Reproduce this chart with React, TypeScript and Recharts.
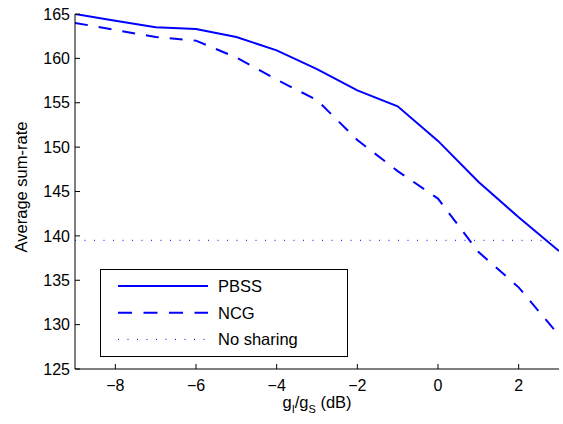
import React from "react";
import { LineChart, Line, XAxis, YAxis, Legend } from "recharts";

const xValues = [-9, -8, -7, -6, -5, -4, -3, -2, -1, 0, 1, 2, 3];
const pbssValues = [165.0, 164.25, 163.5, 163.3, 162.4, 160.9, 158.8, 156.4, 154.6, 150.7, 146.1, 142.1, 138.3];
const ncgValues = [164.0, 163.2, 162.4, 162.0, 160.1, 157.6, 155.3, 150.8, 147.3, 144.2, 138.2, 134.2, 128.8];
const noSharingValues = [139.5, 139.5, 139.5, 139.5, 139.5, 139.5, 139.5, 139.5, 139.5, 139.5, 139.5, 139.5, 139.5];

const xTicks = [-8, -6, -4, -2, 0, 2];
const yTicks = [125, 130, 135, 140, 145, 150, 155, 160, 165];

const seriesNames = ["PBSS", "NCG", "No sharing"];
const seriesKeys = ["pbss", "ncg", "none"];

const data = xValues.map((x, i) => ({
  x,
  pbss: pbssValues[i],
  ncg: ncgValues[i],
  none: noSharingValues[i],
}));

const BLUE = "#0000ff";
const FONT = "'Liberation Sans', Arial, Helvetica, sans-serif";

const seriesStyle: Record<string, { dash?: string; width: number }> = {
  pbss: { width: 2 },
  ncg: { dash: "13 11", width: 2 },
  none: { dash: "1 8.5", width: 1 },
};

const fmt = (v: number) => (v < 0 ? "\u2212" + Math.abs(v) : String(v));

const LegendBox = () => (
  <div
    style={{
      width: 246,
      height: 86,
      border: "1px solid #000",
      background: "#fff",
      position: "relative",
      fontFamily: FONT,
      color: "#000",
    }}
  >
    <svg width={246} height={86} style={{ position: "absolute", left: 0, top: 0 }}>
      {seriesKeys.map((k, i) => {
        const y = 16 + i * 26.7;
        const st = seriesStyle[k];
        return (
          <g key={k}>
            <line
              x1={17}
              x2={107}
              y1={y}
              y2={y}
              stroke={BLUE}
              strokeWidth={st.width}
              strokeDasharray={k === "ncg" ? "14 11.5" : st.dash}
            />
            <text x={117} y={y + 6} fontSize={16.5} fontFamily={FONT} fill="#000">
              {seriesNames[i]}
            </text>
          </g>
        );
      })}
    </svg>
  </div>
);

const XLabel = (props: any) => {
  const vb = props.viewBox || { x: 75, y: 369, width: 484, height: 40 };
  const cx = vb.x + vb.width / 2;
  const y = vb.y + 39;
  return (
    <text x={cx} y={y} textAnchor="middle" fontSize={16.5} fontFamily={FONT} fill="#000">
      <tspan>g</tspan>
      <tspan dy={5} fontSize={11}>I</tspan>
      <tspan dy={-5}>/g</tspan>
      <tspan dy={5} fontSize={11}>S</tspan>
      <tspan dy={-5}> (dB)</tspan>
    </text>
  );
};

const YLabel = (props: any) => {
  const vb = props.viewBox || { x: 15, y: 14, width: 60, height: 355 };
  const x = vb.x + 12;
  const y = vb.y + vb.height / 2 - 4.5;
  return (
    <text
      x={x}
      y={y}
      textAnchor="middle"
      fontSize={16.5}
      fontFamily={FONT}
      fill="#000"
      transform={`rotate(-90 ${x} ${y})`}
    >
      Average sum-rate
    </text>
  );
};

export default function App() {
  return (
    <div style={{ position: "absolute", left: 0, top: 0, width: 563, height: 424, background: "#fff" }}>
      <LineChart
        width={563}
        height={424}
        data={data}
        margin={{ top: 14, right: 4, bottom: 15, left: 15 }}
        style={{ fontFamily: FONT }}
      >
        <XAxis
          dataKey="x"
          type="number"
          domain={[-9, 3]}
          ticks={xTicks}
          tickFormatter={fmt}
          height={40}
          tickSize={-5}
          tickMargin={16}
          axisLine={{ stroke: "#000", strokeWidth: 1 }}
          tickLine={{ stroke: "#000" }}
          tick={{ fill: "#000", fontSize: 16, fontFamily: FONT }}
          allowDataOverflow
          label={{ content: XLabel } as any}
        />
        <XAxis
          xAxisId="top"
          dataKey="x"
          orientation="top"
          type="number"
          domain={[-9, 3]}
          ticks={xTicks}
          height={0}
          tickSize={-5}
          tick={false}
          axisLine={{ stroke: "#000", strokeWidth: 1 }}
          tickLine={{ stroke: "#000" }}
          allowDataOverflow
        />
        <YAxis
          type="number"
          domain={[125, 165]}
          ticks={yTicks}
          width={60}
          tickSize={-5}
          tickMargin={10}
          axisLine={{ stroke: "#000", strokeWidth: 1 }}
          tickLine={{ stroke: "#000" }}
          tick={{ fill: "#000", fontSize: 16, fontFamily: FONT }}
          allowDataOverflow
          label={{ content: YLabel } as any}
        />
        <YAxis
          yAxisId="right"
          orientation="right"
          type="number"
          domain={[125, 165]}
          ticks={yTicks}
          width={0}
          tickSize={-5}
          tick={false}
          axisLine={{ stroke: "#000", strokeWidth: 1 }}
          tickLine={{ stroke: "#000" }}
          allowDataOverflow
        />
        <Legend
          layout="vertical"
          align="center"
          verticalAlign="middle"
          content={() => <LegendBox />}
          wrapperStyle={{ left: 100, top: 269, width: 248, height: 88 }}
        />
        {seriesKeys.map((k, i) => (
          <Line
            key={k}
            dataKey={k}
            name={seriesNames[i]}
            type="linear"
            stroke={BLUE}
            strokeWidth={seriesStyle[k].width}
            strokeDasharray={seriesStyle[k].dash}
            dot={false}
            activeDot={false}
            isAnimationActive={false}
          />
        ))}
      </LineChart>
    </div>
  );
}
